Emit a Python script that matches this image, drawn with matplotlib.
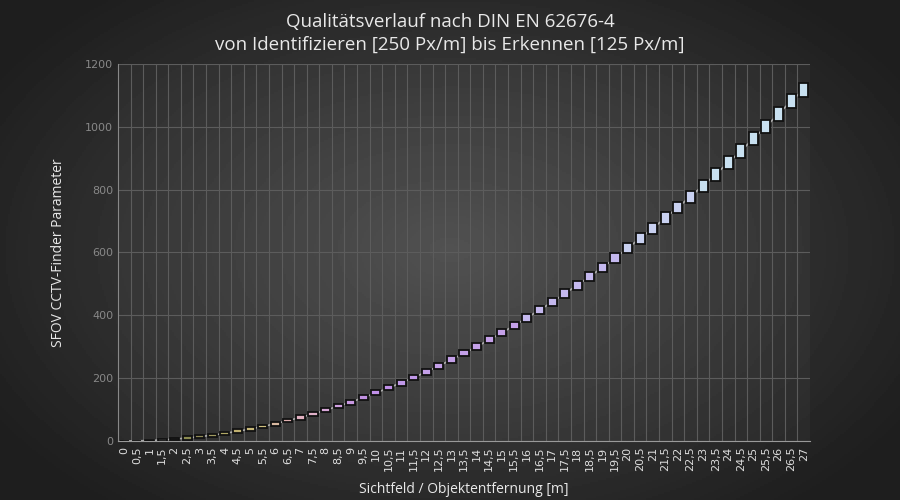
import numpy as np
import matplotlib
matplotlib.use("Agg")
import matplotlib.pyplot as plt
from matplotlib.patches import Rectangle

labels = ["0","0,5","1","1,5","2","2,5","3","3,5","4","4,5","5","5,5","6","6,5","7","7,5","8","8,5","9","9,5",
          "10","10,5","11","11,5","12","12,5","13","13,5","14","14,5","15","15,5","16","16,5","17","17,5","18","18,5",
          "19","19,5","20","20,5","21","21,5","22","22,5","23","23,5","24","24,5","25","25,5","26","26,5","27"]
mid = [0,0.4,1.5,3.4,6.1,9.6,13.8,18.7,24.5,31,38,46,55,65,75,86,98,111,124,138,
       153,169,185,202,220,239,259,279,300,322,344,368,392,417,442,469,496,524,552,582,
       614,645,677,710,744,778,813,849,886,923,962,1001,1041,1082,1118]
half = [1,1,2,3,4,5,5,5,5,6,6,6,6,6,7,7,7,7,8,8,
        8,8,9,9,9,10,10,10,11,11,11,12,12,13,13,14,14,15,15,16,
        16,17,17,18,18,19,19,20,20,21,21,22,22,22,23]
colors = ["#cccccc"]*4 + ["#333333"] + ["#8a8a50","#8f8a55","#a09a60","#b0a865","#c0b070","#c8b878","#d0c080",
          "#d8b8a0","#e0b0b0","#e0b0c0","#e0b0c8","#d8a8d8","#d0a0e0","#c898e0","#c090e0","#c090e8","#c090e8","#c098e8","#c098e8"]
cols_rest = ["#c4a0e8"]*8 + ["#c4b8ee"]*8 + ["#c8d0f0"]*6 + ["#c8e0f0"]*13
colors = (colors + cols_rest)[:len(mid)]
while len(colors) < len(mid):
    colors.append("#c8e0f0")

fig = plt.figure(figsize=(9, 5), dpi=100)
bg = fig.add_axes([0, 0, 1, 1], zorder=-10)
yy, xx = np.mgrid[-1:1:250j, -1:1:450j]
r = np.sqrt((xx*0.9)**2 + (yy*0.8)**2)
img = np.clip(0.30 - 0.17*r, 0.12, 0.32)
bg.imshow(img, cmap="gray", vmin=0, vmax=1, aspect="auto", extent=[0, 1, 0, 1])
bg.axis("off")

ax = fig.add_axes([118/900, 1-441/500, (810-118)/900, (441-64)/500])
ax.set_facecolor((1, 1, 1, 0.03))
x = np.arange(len(mid))
ax.plot(x, mid, color="#aaaaaa", lw=1.2, zorder=2)
w = 0.72
for xi, m, h, c in zip(x, mid, half, colors):
    ax.add_patch(Rectangle((xi - w/2, m - h), w, 2*h, facecolor=c, edgecolor="#111111", lw=1.3, zorder=3))
ax.set_xlim(-0.5, len(mid) - 0.5)
ax.set_ylim(0, 1200)
ax.set_yticks(range(0, 1201, 200))
ax.set_xticks(x)
ax.set_xticklabels(labels, rotation=90, color="#dddddd", fontsize=8)
ax.tick_params(axis="y", colors="#888888", labelsize=8, length=0)
ax.tick_params(axis="x", length=0, pad=4)
ax.set_xticks(x[:-1] + 0.5, minor=True)
ax.tick_params(axis="x", which="minor", length=0)
ax.grid(True, which="minor", axis="x", color="#5c5c5c", lw=0.8)
ax.grid(True, which="major", axis="y", color="#5c5c5c", lw=0.8)
for s in ["top", "right"]:
    ax.spines[s].set_visible(False)
ax.spines["left"].set_color("#888888")
ax.spines["bottom"].set_color("#999999")
ax.set_axisbelow(True)
ax.set_xlabel("Sichtfeld / Objektentfernung [m]", color="#e8e8e8", fontsize=10, fontfamily="Open Sans", labelpad=8)
ax.set_ylabel("SFOV CCTV-Finder Parameter", color="#e8e8e8", fontsize=10, fontfamily="Open Sans", labelpad=14)
fig.text(0.5, 0.975, "Qualitätsverlauf nach DIN EN 62676-4\nvon Identifizieren [250 Px/m] bis Erkennen [125 Px/m]",
         ha="center", va="top", color="#e8e8e8", fontsize=13.5, fontfamily="Open Sans", linespacing=1.35)
fig.savefig("out.png", dpi=100)
